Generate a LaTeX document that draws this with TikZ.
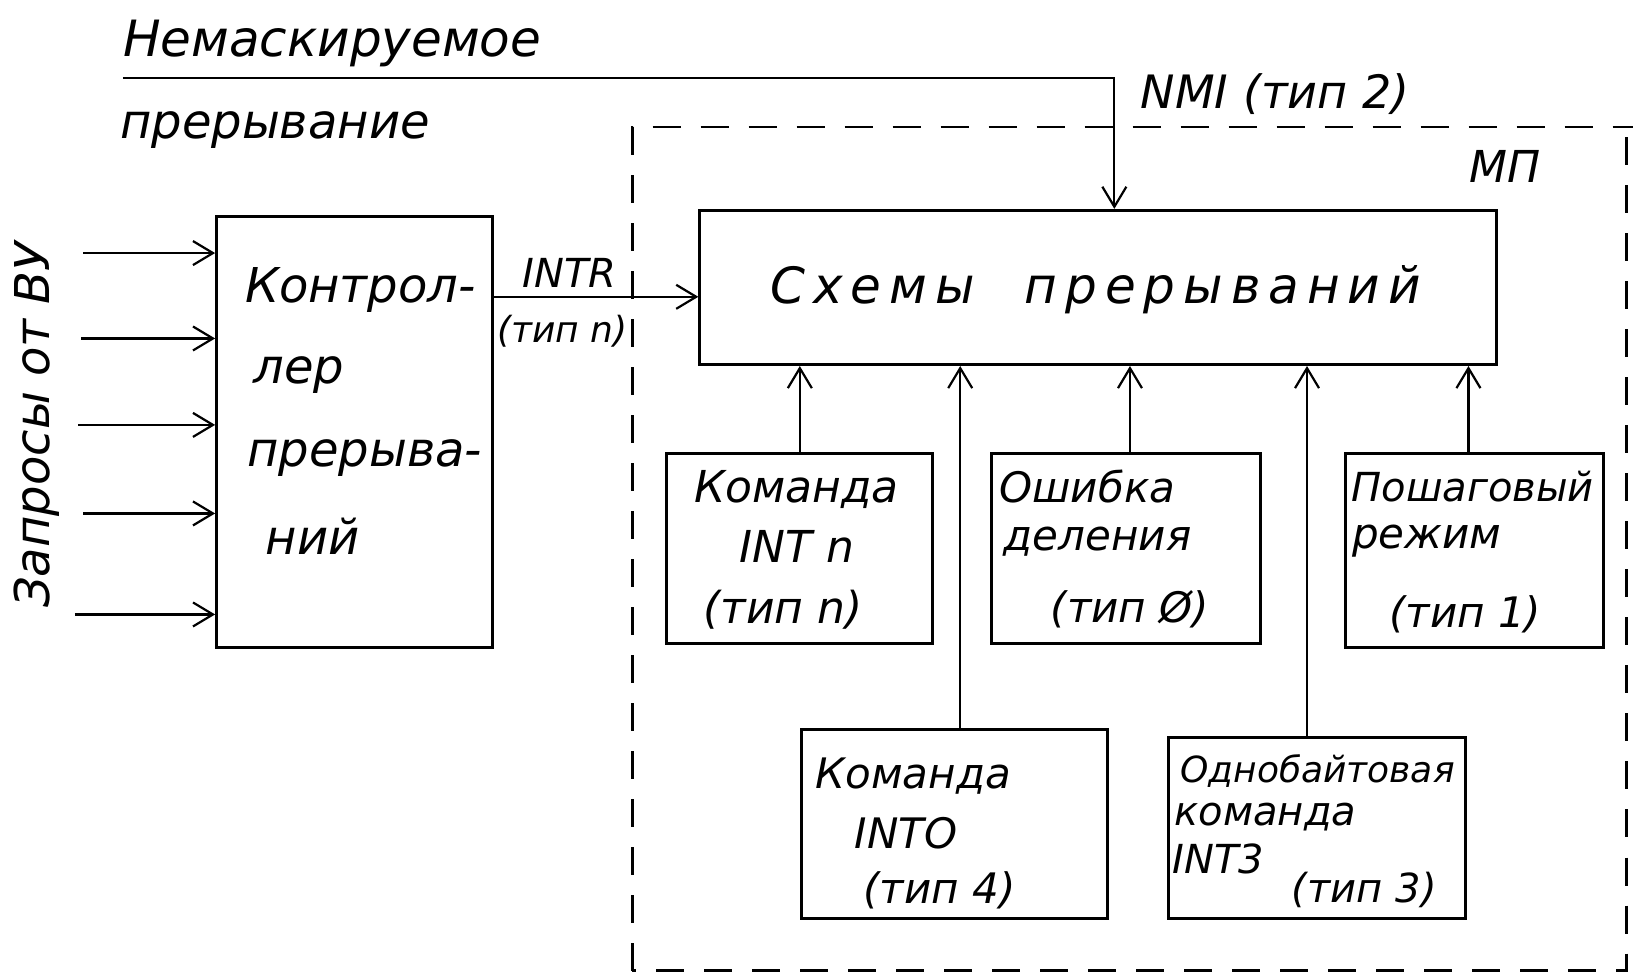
\documentclass[tikz,border=0pt]{standalone}
\usepackage{fontspec}
\setmainfont{DejaVu Sans}
\usetikzlibrary{arrows.meta,fit}
\begin{document}
\begin{tikzpicture}[x=0.5207pt,y=-0.5207pt,
  hw/.style={font=\fontsize{#1}{#1}\selectfont\itshape, inner sep=0pt},
  hw/.default=22,
  blk/.style={draw, line width=1.5pt, inner sep=0pt},
  arr/.style={line width=1.1pt, -{Straight Barb[length=10pt,width=12pt,line width=1.1pt]}},
  dsh/.style={line width=1.4pt, dash pattern=on 14pt off 10pt}]

\fill[white] (0,0) rectangle (1568,941);
\useasboundingbox (0,0) rectangle (1568,941);

% MP boundary
\draw[dsh] (607,932) -- (607,122) -- (1568,122);
\draw[dsh] (1562,132) -- (1562,932) -- (607,932);
\node[hw=22] (tmp) at (1445,160) {МП};

% blocks
\node[blk, fit={(208,208) (473,622)}] (ctl) {};
\node[blk, fit={(672,202) (1437,350)}] (sch) {};
\node[blk, fit={(640,435) (895,618)}] (b1) {};
\node[blk, fit={(952,435) (1210,618)}] (b2) {};
\node[blk, fit={(1292,435) (1540,622)}] (b3) {};
\node[blk, fit={(770,700) (1063,882)}] (b4) {};
\node[blk, fit={(1122,708) (1407,882)}] (b5) {};

% top labels
\node[hw=25] (tnm1) at (319,42) {Немаскируемое};
\node[hw=24] (tnm2) at (264,125) {прерывание};
\node[hw=23, anchor=west] (tnmi) at (1095,90) {NMI (тип 2)};
\node[hw=24, rotate=90] (tzap) at (35,408) {Запросы от ВУ};

% controller text
\node[hw=24, anchor=west] (c1) at (235,278) {Контрол-};
\node[hw=24, anchor=west] (c2) at (243,360) {лер};
\node[hw=24, anchor=west] (c3) at (237,440) {прерыва-};
\node[hw=24, anchor=west] (c4) at (255,515) {ний};

% INTR labels
\node[hw=20] (tintr) at (547,262) {INTR};
\node[hw=18] (tintn) at (540,318) {(тип n)};

% scheme text
\node[hw=25] (tsch) at (1052,278) {\addfontfeatures{LetterSpace=16}Схемы\quad прерываний};

% box texts
\node[hw=22] (b1a) at (765,470) {Команда};
\node[hw=22] (b1b) at (765,525) {INT n};
\node[hw=22] (b1c) at (752,585) {(тип n)};
\node[hw=21] (b2a) at (1044,467) {Ошибка};
\node[hw=21] (b2b) at (1054,520) {деления};
\node[hw=21] (b2c) at (1085,585) {(тип Ø)};
\node[hw=20] (b3a) at (1414,467) {Пошаговый};
\node[hw=21] (b3b) at (1370,520) {режим};
\node[hw=21] (b3c) at (1407,590) {(тип 1)};
\node[hw=21] (b4a) at (877,745) {Команда};
\node[hw=21] (b4b) at (870,800) {INTO};
\node[hw=21] (b4c) at (902,855) {(тип 4)};
\node[hw=18] (b5a) at (1265,740) {Однобайтовая};
\node[hw=20] (b5b) at (1215,785) {команда};
\node[hw=20] (b5c) at (1170,825) {INT3};
\node[hw=20] (b5d) at (1310,855) {(тип 3)};

% NMI line
\coordinate (nmis) at (118,75);
\coordinate (nmic) at (1070,75);
\draw[arr] (nmis) -- (nmic) -- (nmic |- sch.north);

% request inputs
\coordinate (i1) at (80,243);
\coordinate (i2) at (78,325);
\coordinate (i3) at (75,408);
\coordinate (i4) at (80,493);
\coordinate (i5) at (72,590);
\foreach \i in {i1,i2,i3,i4,i5} \draw[arr] (\i) -- (\i -| ctl.west);

% INTR
\coordinate (intr) at (473,285);
\draw[arr] (intr -| ctl.east) -- (intr -| sch.west);

% sources to scheme
\coordinate (x1) at (768,0);
\coordinate (x4) at (922,0);
\coordinate (x2) at (1085,0);
\coordinate (x5) at (1255,0);
\coordinate (x3) at (1410,0);
\draw[arr] (b1.north -| x1) -- (sch.south -| x1);
\draw[arr] (b4.north -| x4) -- (sch.south -| x4);
\draw[arr] (b2.north -| x2) -- (sch.south -| x2);
\draw[arr] (b5.north -| x5) -- (sch.south -| x5);
\draw[arr] (b3.north -| x3) -- (sch.south -| x3);
\end{tikzpicture}
\end{document}
